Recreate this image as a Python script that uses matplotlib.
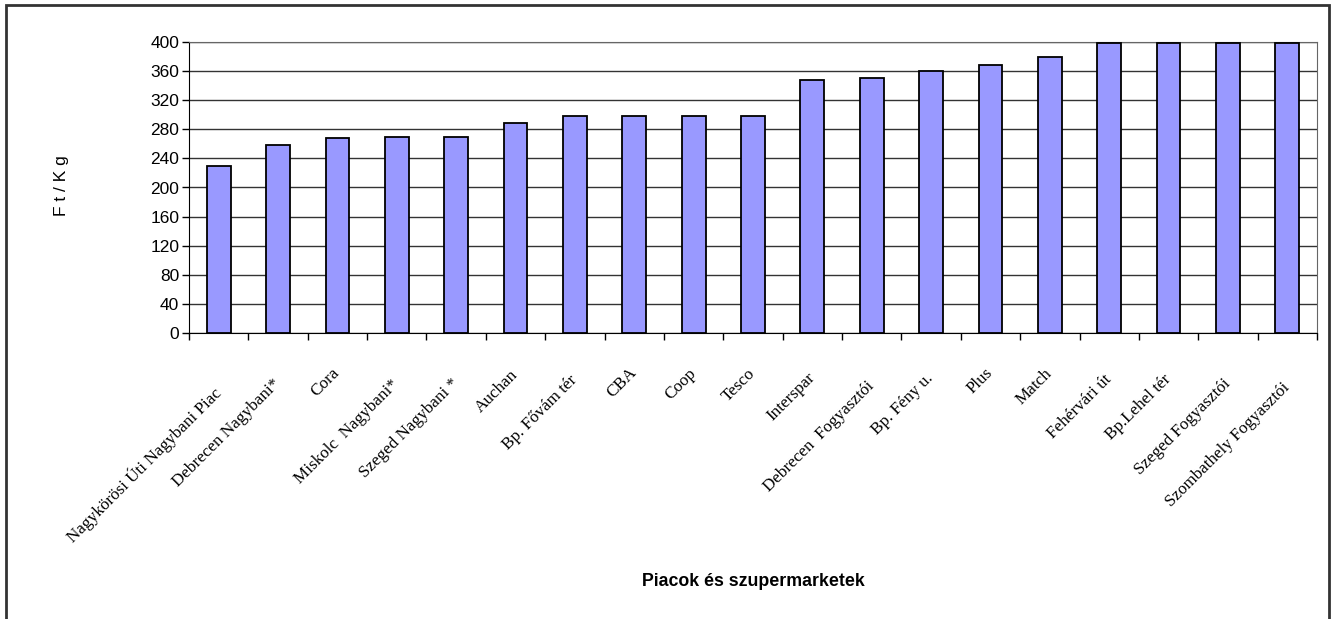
import numpy as np
import matplotlib.pyplot as plt
from matplotlib.patches import Rectangle

# Price per kg at markets and supermarkets
markets = [
    "Nagykörösi Úti Nagybani Piac",
    "Debrecen Nagybani*",
    "Cora",
    "Miskolc  Nagybani*",
    "Szeged Nagybani *",
    "Auchan",
    "Bp. Fővám tér",
    "CBA",
    "Coop",
    "Tesco",
    "Interspar",
    "Debrecen  Fogyasztói",
    "Bp. Fény u.",
    "Plus",
    "Match",
    "Fehérvári út",
    "Bp.Lehel tér",
    "Szeged Fogyasztói",
    "Szombathely Fogyasztói",
]
prices = [230, 258, 268, 270, 270, 289, 298, 298, 298, 298,
          348, 350, 360, 369, 379, 398, 398, 398, 398]
y_ticks = list(range(0, 401, 40))

fig = plt.figure(figsize=(13.31, 6.19), dpi=100)
ax = fig.add_axes([189 / 1331, 1 - 333 / 619, (1317 - 189) / 1331, (333 - 42) / 619])

x = np.arange(len(markets))
ax.bar(x, prices, width=0.4, color="#9999ff", edgecolor="black", linewidth=1.3, zorder=3)

ax.set_xlim(-0.5, len(markets) - 0.5)
ax.set_ylim(0, 400)
ax.set_yticks(y_ticks)
ax.set_yticklabels([str(v) for v in y_ticks], family="Liberation Sans", fontsize=12.5)
ax.yaxis.grid(True, color="#333333", linewidth=1.0, zorder=0)
ax.tick_params(axis="y", direction="out", length=5, width=1, pad=2)

# ticks between categories, labels at bar centres
# (longer labels sit a little lower, like the Excel original)
ax.set_xticks(np.arange(len(markets) + 1) - 0.5)
ax.set_xticklabels([])
ax.tick_params(axis="x", direction="out", length=5, width=1)
for i, name in enumerate(markets):
    y_off = -(52 + 1.1 * (len(name) - 4))
    ax.text(i, y_off, name, rotation=45, rotation_mode="anchor",
            ha="right", va="center", family="Liberation Serif", fontsize=12.3,
            transform=ax.transData, clip_on=False)

for side in ["top", "right"]:
    ax.spines[side].set_color("#666666")
for side in ["left", "bottom"]:
    ax.spines[side].set_color("black")

fig.text(62 / 1331, 1 - 186 / 619, "F t / K g", rotation=90, ha="center", va="center",
         family="Liberation Sans", fontsize=12.5)
fig.text(753 / 1331, 1 - 581 / 619, "Piacok és szupermarketek", ha="center", va="center",
         family="Liberation Sans", fontsize=12.8, fontweight="bold")

# outer frame of the chart
fig.patches.append(Rectangle((6 / 1331, -0.05), (1329 - 6) / 1331, 1.05 - 5 / 619,
                             transform=fig.transFigure, fill=False,
                             edgecolor="#333333", linewidth=2))

fig.savefig("out.png", dpi=100)
